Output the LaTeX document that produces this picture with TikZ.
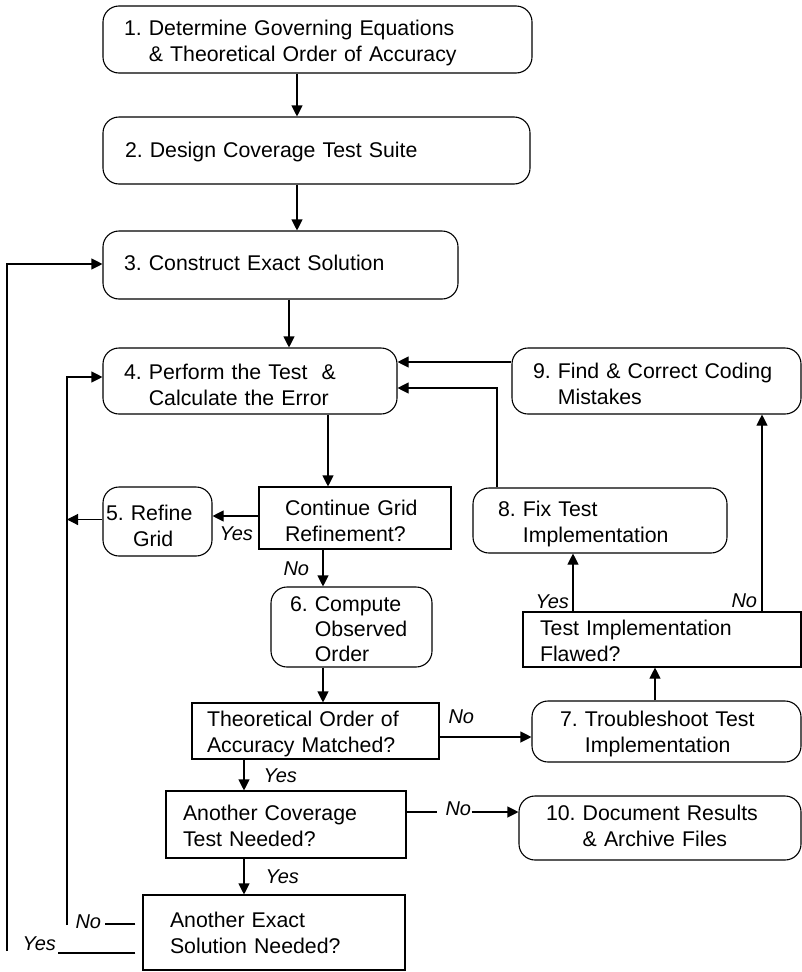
\documentclass[tikz,border=0pt]{standalone}
\usepackage{fontspec}
\setmainfont{Liberation Sans}
\usetikzlibrary{arrows.meta}
\newcommand\ftop[1]{\rule{0pt}{#1pt}}
\newcommand\fbot{\rule[-6pt]{0pt}{0pt}}
\frenchspacing
\begin{document}
\begin{tikzpicture}[x=1pt,y=-1pt,line width=1.1pt,
  every node/.style={font=\fontsize{21.3}{26}\selectfont},
  base/.style={draw, line width=1.1pt, align=left, inner ysep=0pt},
  rbox/.style={base, rounded corners=16pt},
  dbox/.style={base},
  lab/.style={inner sep=0pt, anchor=base west, font=\fontsize{20}{24}\selectfont\itshape},
  arr/.style={-{Triangle[length=11pt,width=11pt]}}
]
\useasboundingbox (0,0) rectangle (802,972);

% process boxes
\node[rbox, text width=387, inner xsep=21, minimum height=67] (n1) at (317.5,39.5)
  {\ftop{23}1. Determine Governing Equations\\\hphantom{1. }\& Theoretical Order of Accuracy\fbot};
\node[rbox, text width=383, inner xsep=22, minimum height=67] (n2) at (316.5,150.5)
  {\ftop{19}2. Design Coverage Test Suite\fbot};
\node[rbox, text width=313, inner xsep=21, minimum height=68] (n3) at (280.5,265)
  {\ftop{16}3. Construct Exact Solution\fbot};
\node[rbox, text width=252, inner xsep=21, minimum height=66] (n4) at (250,381)
  {\ftop{28}4. Perform the Test\ \ \&\\\hphantom{4. }Calculate the Error\fbot};
\node[rbox, text width=247, inner xsep=21, minimum height=66] (n9) at (656.5,381)
  {\ftop{26}9. Find \& Correct Coding\\\hphantom{9. }Mistakes\fbot};
\node[dbox, text width=140, inner xsep=26, minimum height=62] (cont) at (355,518)
  {\ftop{26}Continue Grid\\Refinement?\fbot};
\node[rbox, text width=103, inner xsep=3, minimum height=69] (n5) at (157.5,521.5)
  {\ftop{30}5. Refine\\\hspace*{27pt}Grid\fbot};
\node[rbox, text width=204, inner xsep=25, minimum height=65] (n8) at (600,520.5)
  {\ftop{24}8. Fix Test\\\hphantom{8. }Implementation\fbot};
\node[rbox, text width=123, inner xsep=19, minimum height=78,
      font=\fontsize{21.3}{25}\selectfont] (n6) at (351.5,627)
  {\ftop{24}6. Compute\\\hphantom{6. }Observed\\\hphantom{6. }Order\fbot};
\node[dbox, text width=244, inner xsep=17, minimum height=53] (flawed) at (662,639.5)
  {\ftop{23}Test Implementation\\Flawed?\fbot};
\node[dbox, text width=217, inner xsep=15, minimum height=56] (theor) at (315.5,731)
  {\ftop{23.4}Theoretical Order of\\Accuracy Matched?\fbot};
\node[rbox, text width=213, inner xsep=28, minimum height=61] (n7) at (666.5,731.5)
  {\ftop{22.4}7. Troubleshoot Test\\\hphantom{7. }Implementation\fbot};
\node[dbox, text width=206, inner xsep=17, minimum height=67] (cov) at (286,824.5)
  {\ftop{23}Another Coverage\\Test Needed?\fbot};
\node[rbox, text width=228, inner xsep=27, minimum height=64] (n10) at (660,828)
  {\ftop{16}10. Document Results\\\hphantom{10. }\& Archive Files\fbot};
\node[dbox, text width=208, inner xsep=27, minimum height=75] (exact) at (274,932.5)
  {\ftop{21}Another Exact\\Solution Needed?\fbot};

% labels
\node[lab] (yesA) at (219,540) {Yes};
\node[lab] (noA) at (283,575) {No};
\node[lab] (yesB) at (263,782) {Yes};
\node[lab] (yesC) at (265,883) {Yes};
\node[lab] (noC) at (448,723) {No};
\node[lab] (noD) at (445,815) {No};
\node[lab] (yesD) at (535,608) {Yes};
\node[lab] (noE) at (731,607) {No};
\node[lab] (noB) at (75,928) {No};
\node[lab] (yesE) at (22,950) {Yes};

% helper coordinates
\coordinate (inB) at (67,925);
\coordinate (outB) at (7,951);

% main chain
\coordinate (p12) at ([xshift=-20.5]n1.south);
\draw[arr] (p12) -- (p12 |- n2.north);
\coordinate (p23) at ([xshift=-19.5]n2.south);
\draw[arr] (p23) -- (p23 |- n3.north);
\coordinate (p34) at ([xshift=8.5]n3.south);
\draw[arr] (p34) -- (p34 |- n4.north);
\coordinate (p4c) at ([xshift=78]n4.south);
\draw[arr] (p4c) -- (p4c |- cont.north);
\coordinate (pc5) at ([yshift=2]cont.west);
\draw[arr] (pc5) -- (pc5 -| n5.east);
\coordinate (p5L) at ([yshift=2]n5.west);
\draw[arr] (p5L) -- (p5L -| inB);
\coordinate (pc6) at ([xshift=-32]cont.south);
\draw[arr] (pc6) -- (pc6 |- n6.north);
\coordinate (p6t) at ([xshift=-28.5]n6.south);
\draw[arr] (p6t) -- (p6t |- theor.north);
\coordinate (ptc) at ([xshift=-71.5]theor.south);
\draw[arr] (ptc) -- (ptc |- cov.north);
\coordinate (pce) at ([xshift=-42]cov.south);
\draw[arr] (pce) -- (pce |- exact.north);
\coordinate (pt7) at ([yshift=-6]theor.east);
\draw[arr] (pt7) -- (pt7 -| n7.west);
\coordinate (pc10) at ([yshift=12.5]cov.east);
\draw (pc10) -- ++(30,0);
\draw[arr] (pc10 -| noD.east) -- (pc10 -| n10.west);

% troubleshooting branch
\coordinate (p7f) at ([xshift=-11.5]n7.north);
\draw[arr] (p7f) -- (p7f |- flawed.south);
\coordinate (pf8) at ([xshift=-89]flawed.north);
\draw[arr] (pf8) -- (pf8 |- n8.south);
\coordinate (pf9) at ([xshift=100]flawed.north);
\draw[arr] (pf9) -- (pf9 |- n9.south);
\coordinate (p84) at ([xshift=-103]n8.north);
\coordinate (p48) at ([yshift=-7]n4.east);
\draw[arr] (p84) |- (p48);
\coordinate (p94) at ([yshift=19]n9.west);
\draw[arr] (p94) -- (p94 -| n4.east);

% loops on the left
\coordinate (pe4) at ([yshift=4]n4.west);
\draw[arr] (inB) |- (pe4);
\coordinate (pe3) at ([yshift=1]n3.west);
\draw[arr] (outB) |- (pe3);
\coordinate (eNo) at ([xshift=-7,yshift=8.5]exact.west);
\draw (eNo) -- ([xshift=3]eNo -| noB.east);
\coordinate (eYes) at ([xshift=-7,yshift=-20.5]exact.west);
\draw (eYes) -- ([xshift=1.5]eYes -| yesE.east);
\end{tikzpicture}
\end{document}
